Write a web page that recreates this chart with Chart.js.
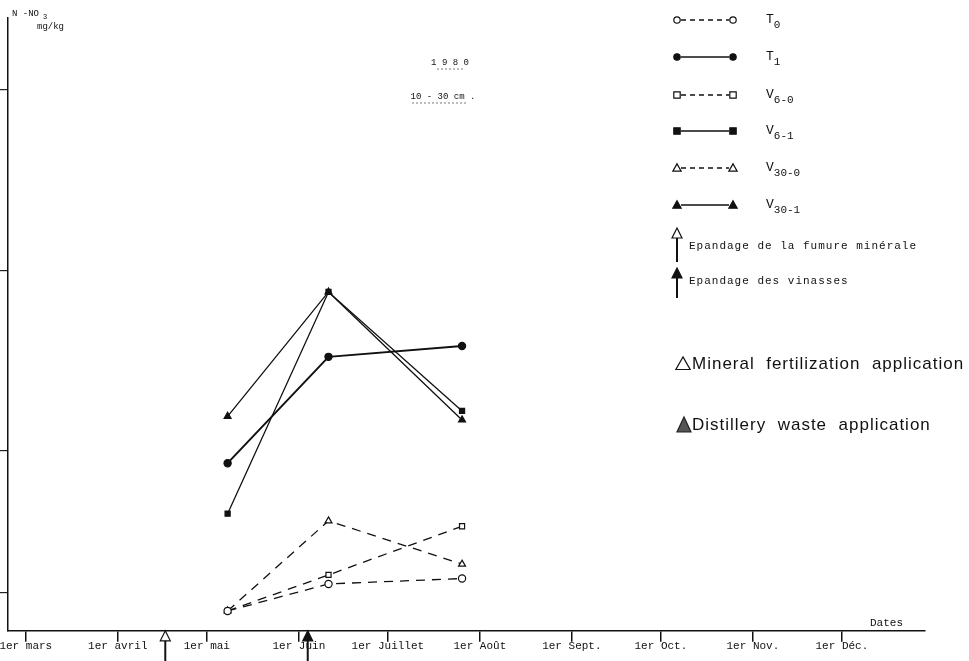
<!DOCTYPE html>
<html>
<head>
<meta charset="utf-8">
<script src="https://cdn.jsdelivr.net/npm/chart.js@4"></script>
<style>
    body { margin: 0; background: #fff; }
</style>
</head>
<body>
<canvas id="nitrateChart" width="969" height="661"></canvas>
<script>
// days counted from 1er mars
const monthDays = [0, 31, 61, 92, 122, 153, 184, 214, 245, 275];
const monthLabels = ['1er mars', '1er avril', '1er mai', '1er Juin', '1er Juillet', '1er Août', '1er Sept.', '1er Oct.', '1er Nov.', '1er Déc.'];
const sampleDays = [68, 102, 147];
const yTickValues = [2.1, 10, 20, 30];

// N-NO3 mg/kg, 10-30 cm
const t0 = [1.1, 2.6, 2.9];
const t1 = [9.3, 15.2, 15.8];
const v6_0 = [1.1, 3.1, 5.8];
const v6_1 = [6.5, 18.8, 12.2];
const v30_0 = [1.1, 6.1, 3.7];
const v30_1 = [11.9, 18.8, 11.7];

// application dates (days from 1er mars)
const mineralDay = 47;
const vinasseDay = 95;

const MONO = '"Liberation Mono", "DejaVu Sans Mono", monospace';

const toPoints = arr => sampleDays.map((d, i) => ({ x: d, y: arr[i] }));

function series(label, values, style, filled, dashed, width) {
    return {
        label: label,
        data: toPoints(values),
        borderColor: '#111',
        borderWidth: width || 1.3,
        borderDash: dashed ? [9, 7] : [],
        pointStyle: style,
        pointRadius: style === 'triangle' ? 4 : 3.6,
        pointBorderWidth: 1.2,
        pointBorderColor: '#111',
        pointBackgroundColor: filled ? '#111' : '#fff',
        tension: 0,
        fill: false
    };
}

// small helpers for drawing the hand-made legend
function mark(ctx, style, filled, x, y, size) {
    const s = size || 3.5;
    ctx.save();
    ctx.lineWidth = 1.2;
    ctx.strokeStyle = '#111';
    ctx.fillStyle = filled ? '#111' : '#fff';
    ctx.beginPath();
    if (style === 'circle') {
        ctx.arc(x, y, s, 0, Math.PI * 2);
    } else if (style === 'rect') {
        ctx.rect(x - s, y - s, 2 * s, 2 * s);
    } else {
        ctx.moveTo(x, y - s * 1.3);
        ctx.lineTo(x + s * 1.3, y + s);
        ctx.lineTo(x - s * 1.3, y + s);
        ctx.closePath();
    }
    ctx.fill();
    ctx.stroke();
    ctx.restore();
}

function arrow(ctx, x, yTop, yBottom, filled) {
    ctx.save();
    ctx.strokeStyle = '#111';
    ctx.fillStyle = filled ? '#111' : '#fff';
    ctx.lineWidth = 2;
    ctx.beginPath();
    ctx.moveTo(x, yTop + 8);
    ctx.lineTo(x, yBottom);
    ctx.stroke();
    ctx.lineWidth = 1.2;
    ctx.beginPath();
    ctx.moveTo(x, yTop);
    ctx.lineTo(x + 5, yTop + 10);
    ctx.lineTo(x - 5, yTop + 10);
    ctx.closePath();
    ctx.fill();
    ctx.stroke();
    ctx.restore();
}

function subText(ctx, main, sub, x, y) {
    ctx.font = '13px ' + MONO;
    ctx.fillText(main, x, y);
    const w = ctx.measureText(main).width;
    ctx.font = '11px ' + MONO;
    ctx.fillText(sub, x + w, y + 5);
}

const legendItems = [
    { main: 'T', sub: '0', style: 'circle', filled: false, dashed: true },
    { main: 'T', sub: '1', style: 'circle', filled: true, dashed: false },
    { main: 'V', sub: '6-0', style: 'rect', filled: false, dashed: true },
    { main: 'V', sub: '6-1', style: 'rect', filled: true, dashed: false },
    { main: 'V', sub: '30-0', style: 'triangle', filled: false, dashed: true },
    { main: 'V', sub: '30-1', style: 'triangle', filled: true, dashed: false }
];

const decorPlugin = {
    id: 'decor',
    afterDraw(chart) {
        const ctx = chart.ctx;
        const xs = chart.scales.x;
        const area = chart.chartArea;
        ctx.save();
        ctx.fillStyle = '#111';
        ctx.textBaseline = 'middle';

        // y axis title
        ctx.font = '9px ' + MONO;
        ctx.fillText('N -NO', 12, 14);
        ctx.font = '7px ' + MONO;
        ctx.fillText('3', 43, 17);
        ctx.font = '9px ' + MONO;
        ctx.fillText('mg/kg', 37, 27);

        // title block
        ctx.font = '9px ' + MONO;
        ctx.textAlign = 'center';
        ctx.fillText('1 9 8 0', 450, 63);
        ctx.fillText('10 - 30 cm .', 443, 97);
        ctx.lineWidth = 0.7;
        ctx.strokeStyle = '#444';
        ctx.setLineDash([2, 2]);
        ctx.beginPath();
        ctx.moveTo(437, 69); ctx.lineTo(464, 69);
        ctx.moveTo(412, 103); ctx.lineTo(468, 103);
        ctx.stroke();
        ctx.setLineDash([]);

        // x axis title
        ctx.textAlign = 'left';
        ctx.font = '11px ' + MONO;
        ctx.fillText('Dates', 870, 623);

        // legend
        const rowY = [20, 57, 95, 131, 168, 205];
        legendItems.forEach((item, i) => {
            const y = rowY[i];
            ctx.save();
            ctx.strokeStyle = '#111';
            ctx.lineWidth = 1.3;
            ctx.setLineDash(item.dashed ? [5, 4] : []);
            ctx.beginPath();
            ctx.moveTo(681, y);
            ctx.lineTo(729, y);
            ctx.stroke();
            ctx.restore();
            mark(ctx, item.style, item.filled, 677, y, 3.2);
            mark(ctx, item.style, item.filled, 733, y, 3.2);
            ctx.fillStyle = '#111';
            subText(ctx, item.main, item.sub, 766, y);
        });

        arrow(ctx, 677, 228, 262, false);
        arrow(ctx, 677, 268, 298, true);
        ctx.font = '11px ' + MONO;
        ctx.fillStyle = '#111';
        ctx.letterSpacing = '1px';
        ctx.fillText('Epandage de la fumure minérale', 689, 246);
        ctx.fillText('Epandage des vinasses', 689, 281);

        // English notes
        ctx.font = '17px "Liberation Sans", Arial, sans-serif';
        mark(ctx, 'triangle', false, 683, 364, 5.5);
        ctx.fillText('Mineral  fertilization  application', 692, 364);
        ctx.save();
        ctx.fillStyle = '#555';
        ctx.strokeStyle = '#222';
        ctx.lineWidth = 1.2;
        ctx.beginPath();
        ctx.moveTo(684, 417); ctx.lineTo(691, 432); ctx.lineTo(677, 432);
        ctx.closePath();
        ctx.fill(); ctx.stroke();
        ctx.restore();
        ctx.fillText('Distillery  waste  application', 692, 425);
        ctx.letterSpacing = '0px';

        // application arrows below the time axis
        arrow(ctx, xs.getPixelForValue(mineralDay), area.bottom, 661, false);
        arrow(ctx, xs.getPixelForValue(vinasseDay), area.bottom, 661, true);

        ctx.restore();
    }
};

const ctx = document.getElementById('nitrateChart').getContext('2d');
new Chart(ctx, {
    type: 'line',
    data: {
        datasets: [
            series('T0', t0, 'circle', false, true),
            series('T1', t1, 'circle', true, false, 2),
            series('V6-0', v6_0, 'rect', false, true),
            series('V6-1', v6_1, 'rect', true, false),
            series('V30-0', v30_0, 'triangle', false, true),
            series('V30-1', v30_1, 'triangle', true, false)
        ]
    },
    options: {
        responsive: false,
        animation: false,
        layout: {
            padding: { left: 0, right: 44, top: 18, bottom: 10 }
        },
        scales: {
            x: {
                type: 'linear',
                min: -6,
                max: 303,
                afterBuildTicks: axis => {
                    axis.ticks = monthDays.map(v => ({ value: v }));
                },
                ticks: {
                    autoSkip: false,
                    maxRotation: 0,
                    padding: -2,
                    color: '#111',
                    font: { family: MONO, size: 11 },
                    callback: value => monthLabels[monthDays.indexOf(value)]
                },
                grid: {
                    drawOnChartArea: false,
                    drawTicks: true,
                    tickLength: 11,
                    color: '#111',
                    lineWidth: 1.5
                },
                border: { color: '#111', width: 1.5 }
            },
            y: {
                min: 0,
                max: 34,
                afterBuildTicks: axis => {
                    axis.ticks = yTickValues.map(v => ({ value: v }));
                },
                ticks: { display: false },
                grid: {
                    drawOnChartArea: false,
                    drawTicks: true,
                    tickLength: 8,
                    color: '#222',
                    lineWidth: 1.2
                },
                border: { color: '#111', width: 1.5 }
            }
        },
        plugins: {
            legend: { display: false },
            tooltip: { enabled: false }
        }
    },
    plugins: [decorPlugin]
});
</script>
</body>
</html>
